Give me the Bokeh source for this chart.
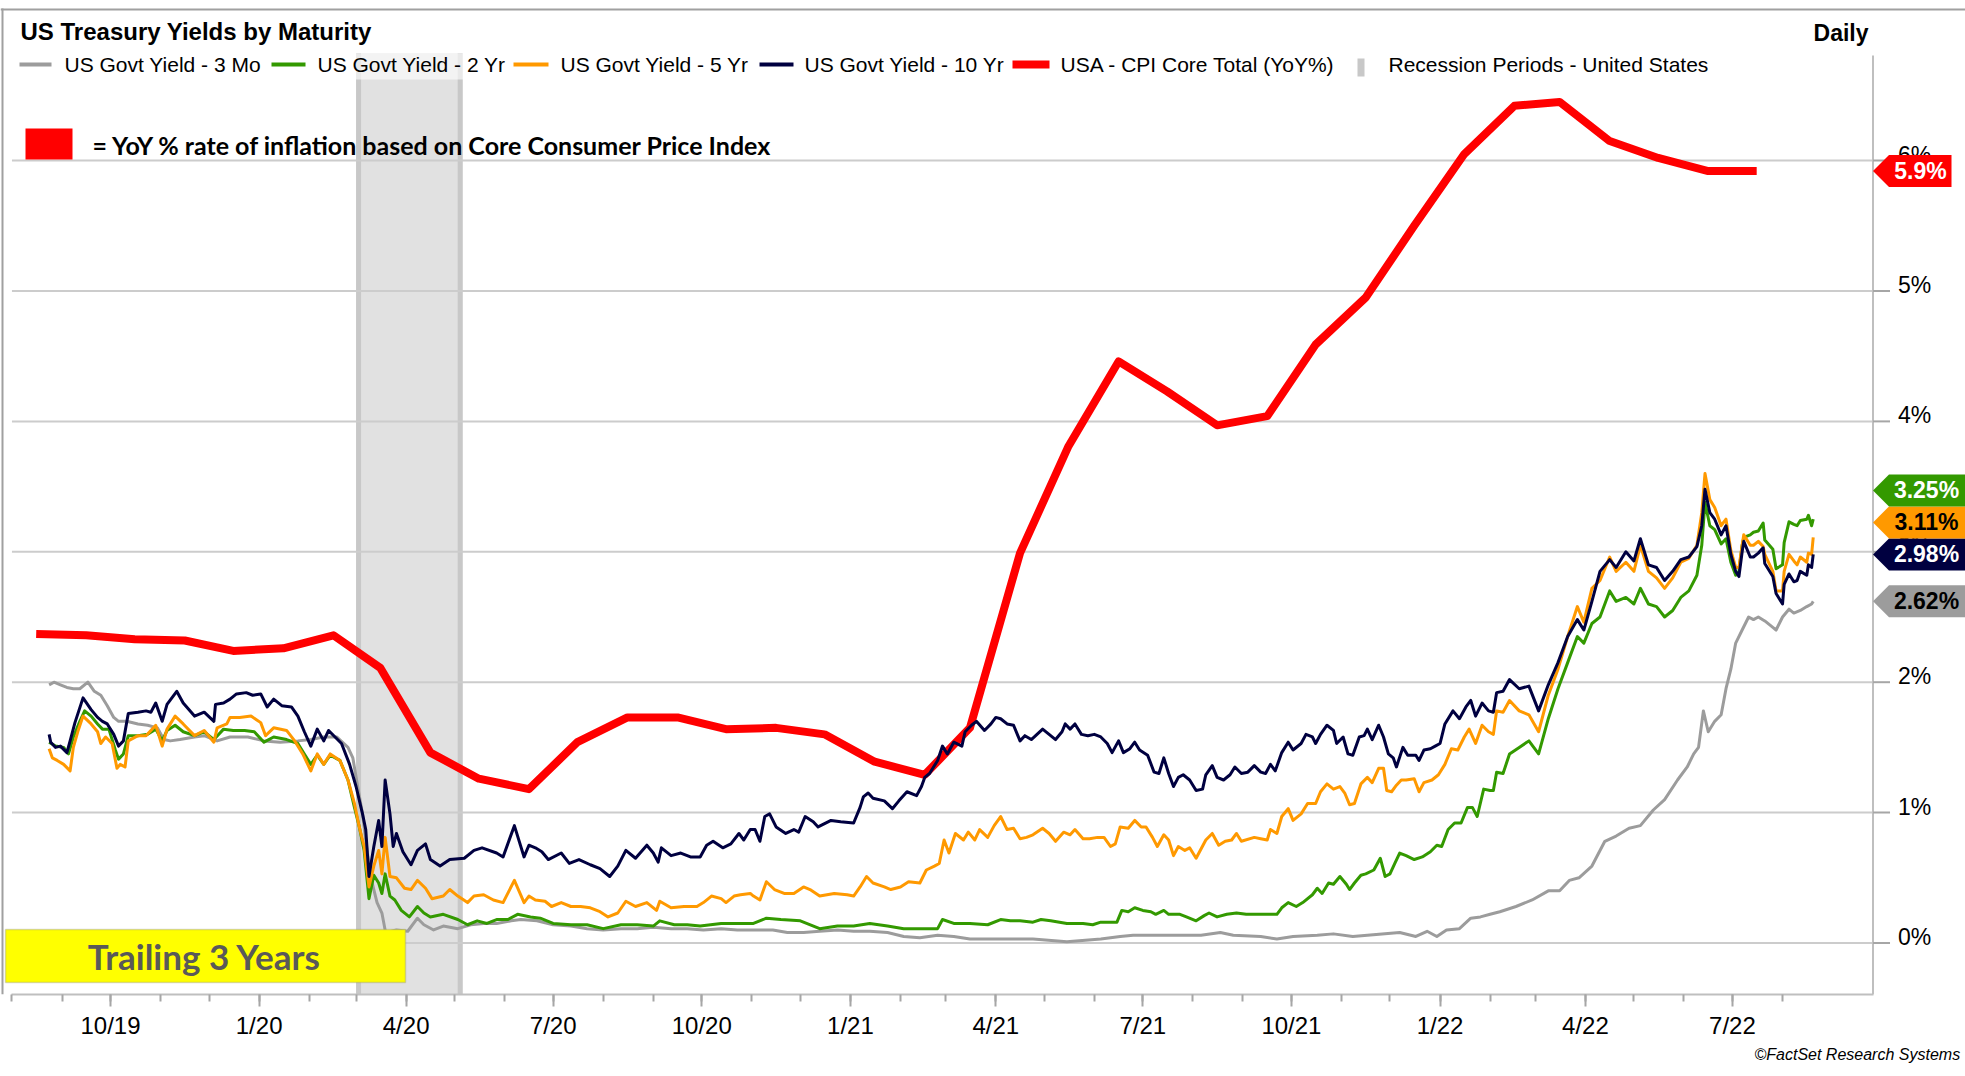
from datetime import datetime, timedelta
from bokeh.plotting import figure
from bokeh.models import (Range1d, FixedTicker, CustomJSTickFormatter, BoxAnnotation,
                          PolyAnnotation, Label, Title)
from bokeh.core.properties import value
from bokeh.embed import file_html
from bokeh.resources import INLINE

# ---------------- data (dates as days since 2019-10-01, yields in %) ----------------
BASE = datetime(2019, 10, 1)

y3m_days = [-38,-35,-31,-27,-23,-19,-14,-10,-6,-2,2,5,10,17,23,29,33,37,43,52,58,66,74,85,95,105,116,124,132,140,
            147,150,153,156,159,162,165,168,170,171,177,184,190,194,200,206,215,223,231,239,248,254,264,274,285,295,
            305,316,326,336,347,357,367,378,388,398,410,419,429,439,450,460,470,481,491,501,512,522,532,543,551,571,
            592,613,625,633,654,675,687,695,712,722,732,747,757,769,778,798,808,815,821,827,835,842,848,854,860,870,
            880,890,897,903,909,917,925,932,940,947,955,962,970,976,980,983,986,989,993,
            997,1000,1003,1006,1010,1014,1017,1020,1024,1029,1031,1035,1039,1042,1046,1050,1053,1054]
y3m_vals = [1.98,2.00,1.98,1.96,1.95,1.95,2.00,1.93,1.90,1.82,1.73,1.70,1.70,1.68,1.67,1.65,1.56,1.55,1.56,1.58,1.59,
            1.55,1.58,1.58,1.55,1.54,1.55,1.56,1.58,1.58,1.50,1.42,1.20,0.99,0.69,0.46,0.31,0.23,0.10,0.08,0.10,0.09,
            0.19,0.14,0.10,0.13,0.11,0.14,0.15,0.15,0.17,0.18,0.17,0.14,0.13,0.11,0.10,0.11,0.11,0.12,0.11,0.11,0.10,
            0.11,0.10,0.10,0.10,0.08,0.08,0.09,0.10,0.09,0.09,0.08,0.05,0.04,0.06,0.05,0.03,0.03,0.03,0.03,0.01,0.03,
            0.05,0.06,0.06,0.06,0.08,0.06,0.05,0.03,0.05,0.06,0.07,0.05,0.06,0.08,0.05,0.09,0.05,0.10,0.11,0.19,0.20,
            0.22,0.24,0.28,0.33,0.40,0.40,0.48,0.50,0.59,0.78,0.82,0.88,0.90,1.02,1.10,1.25,1.35,1.45,1.50,1.78,1.62,
            1.70,
            1.75,1.95,2.10,2.30,2.40,2.50,2.48,2.50,2.47,2.42,2.40,2.50,2.56,2.53,2.55,2.58,2.60,2.62]

y2y_days = [-38,-34,-29,-26,-23,-19,-16,-12,-8,-5,-1,3,5,8,11,17,23,28,32,35,40,45,52,58,64,70,76,83,89,95,101,109,
            116,120,124,128,132,136,142,147,151,154,157,160,163,166,168,170,173,176,180,185,190,194,198,206,215,221,
            227,233,239,246,252,260,266,274,285,295,305,316,326,336,340,349,357,365,378,388,398,406,415,427,439,450,
            460,470,481,491,501,512,515,522,532,543,551,557,563,571,576,582,592,602,608,613,623,626,630,634,639,644,
            647,652,655,662,666,672,677,680,685,691,697,703,711,716,722,725,729,734,738,744,747,750,754,757,761,765,
            767,770,774,777,782,786,789,792,795,798,802,807,812,817,821,824,828,832,836,840,843,846,850,854,856,858,
            862,866,872,878,884,890,896,902,908,912,917,922,928,932,938,943,947,952,957,962,967,972,977,982,985,987,
            990,993,997,1000,1003,1006,1008,1010,1011,1015,1017,1020,1023,1024,1029,1031,1035,1036,1039,1042,1044,
            1046,1050,1051,1053,1054]
y2y_vals = [1.54,1.51,1.50,1.45,1.58,1.70,1.78,1.74,1.68,1.64,1.64,1.48,1.41,1.45,1.59,1.59,1.60,1.64,1.55,1.63,1.67,
            1.62,1.59,1.62,1.56,1.64,1.63,1.63,1.62,1.54,1.58,1.56,1.53,1.45,1.37,1.44,1.37,1.44,1.40,1.25,1.04,0.89,
            0.71,0.34,0.52,0.46,0.38,0.53,0.36,0.33,0.25,0.20,0.28,0.23,0.20,0.22,0.18,0.14,0.17,0.15,0.18,0.18,0.22,
            0.20,0.19,0.15,0.14,0.14,0.11,0.14,0.14,0.13,0.17,0.14,0.14,0.13,0.15,0.15,0.15,0.19,0.18,0.17,0.11,0.13,
            0.13,0.15,0.13,0.11,0.11,0.11,0.18,0.15,0.15,0.14,0.18,0.17,0.17,0.16,0.18,0.17,0.15,0.15,0.14,0.16,0.16,
            0.25,0.24,0.27,0.25,0.24,0.22,0.25,0.22,0.22,0.20,0.17,0.21,0.23,0.20,0.22,0.23,0.22,0.22,0.22,0.22,0.27,
            0.31,0.28,0.31,0.37,0.42,0.38,0.46,0.45,0.51,0.45,0.41,0.46,0.52,0.53,0.56,0.65,0.51,0.53,0.61,0.69,0.67,
            0.64,0.66,0.70,0.75,0.74,0.87,0.92,0.92,1.04,1.04,0.97,1.18,1.17,1.17,1.31,1.30,1.45,1.50,1.55,1.45,1.72,
            1.95,2.15,2.35,2.30,2.45,2.50,2.70,2.62,2.65,2.60,2.72,2.60,2.58,2.50,2.55,2.65,2.70,2.82,3.05,3.38,
            3.20,3.17,3.06,3.10,2.92,2.82,2.85,3.05,3.11,3.13,3.15,3.16,3.22,3.09,3.02,2.87,2.90,3.07,3.23,3.21,3.20,
            3.24,3.25,3.28,3.20,3.25]

y5y_days = [-38,-36,-33,-29,-25,-23,-20,-17,-12,-8,-6,-3,1,4,6,9,11,17,22,28,32,35,40,45,52,58,64,66,72,74,80,87,93,
            96,101,109,114,119,124,128,132,136,142,147,151,154,157,160,163,166,168,170,173,177,182,186,190,195,199,206,
            210,215,221,225,231,237,243,250,256,259,263,269,273,279,285,291,297,303,308,314,319,325,332,338,340,347,
            355,363,367,372,378,381,386,390,396,398,402,406,411,417,423,429,433,439,448,456,460,464,468,472,479,483,
            489,494,501,505,510,513,516,519,523,528,531,535,538,543,547,551,555,559,563,567,571,577,581,585,590,594,
            597,602,606,611,615,619,622,625,630,634,638,641,645,648,652,655,658,661,665,668,672,678,682,686,690,694,
            697,700,708,712,716,718,722,725,729,732,737,741,746,749,753,757,761,764,767,770,774,778,781,785,788,790,
            793,796,799,802,807,810,813,818,822,826,830,834,838,841,845,849,853,856,858,862,866,872,878,884,890,896,
            902,908,912,917,922,928,932,938,943,947,952,957,962,967,972,977,982,985,987,
            990,993,997,1000,1003,1006,1008,1010,1011,1015,1017,1020,1023,1024,1029,1031,1035,1036,1039,1042,1044,
            1046,1050,1051,1053,1054]
y5y_vals = [1.49,1.42,1.40,1.37,1.32,1.50,1.63,1.74,1.68,1.62,1.53,1.58,1.53,1.34,1.37,1.35,1.55,1.59,1.59,1.67,1.51,
            1.64,1.74,1.68,1.59,1.63,1.54,1.65,1.68,1.73,1.73,1.74,1.69,1.59,1.65,1.63,1.55,1.45,1.32,1.45,1.37,1.45,
            1.40,1.25,1.07,0.89,0.74,0.43,0.59,0.71,0.53,0.81,0.51,0.50,0.42,0.41,0.48,0.42,0.34,0.36,0.41,0.36,0.31,
            0.36,0.37,0.33,0.31,0.48,0.31,0.36,0.33,0.32,0.28,0.31,0.28,0.28,0.27,0.24,0.20,0.23,0.32,0.28,0.31,0.25,
            0.32,0.27,0.28,0.28,0.31,0.36,0.34,0.31,0.36,0.37,0.38,0.36,0.33,0.47,0.41,0.38,0.38,0.43,0.41,0.36,0.38,
            0.37,0.36,0.43,0.51,0.46,0.43,0.41,0.43,0.47,0.46,0.56,0.59,0.61,0.79,0.69,0.84,0.79,0.85,0.79,0.87,0.81,
            0.90,0.97,0.87,0.88,0.80,0.81,0.83,0.88,0.84,0.78,0.85,0.83,0.87,0.80,0.80,0.81,0.81,0.74,0.76,0.89,0.88,
            0.94,0.89,0.89,0.81,0.74,0.83,0.79,0.67,0.74,0.71,0.73,0.65,0.79,0.84,0.75,0.78,0.79,0.84,0.78,0.81,0.80,
            0.79,0.87,0.84,0.97,1.03,0.94,0.99,1.07,1.07,1.16,1.22,1.18,1.20,1.15,1.06,1.07,1.22,1.27,1.23,1.34,1.34,
            1.17,1.16,1.21,1.25,1.25,1.26,1.16,1.23,1.25,1.29,1.37,1.49,1.48,1.58,1.64,1.53,1.67,1.62,1.60,1.78,1.77,
            1.86,1.78,1.75,1.62,1.90,2.10,2.35,2.58,2.46,2.72,2.78,2.96,2.85,2.92,2.85,3.05,2.85,2.80,2.72,2.80,2.92,
            2.95,3.05,3.30,3.60,
            3.40,3.34,3.20,3.25,3.01,2.88,2.88,3.05,3.13,3.05,3.05,3.08,3.04,2.98,2.85,2.70,2.70,2.85,2.98,2.93,2.90,
            2.96,2.92,2.99,2.98,3.11]

y10_days = [-38,-37,-34,-31,-27,-25,-22,-17,-12,-8,-5,-2,2,5,8,11,17,22,25,28,32,35,41,45,52,58,64,65,70,74,78,84,88,
            93,97,101,106,112,116,120,124,128,132,135,139,143,148,152,156,158,160,163,166,168,170,173,175,177,181,186,
            190,195,198,204,210,219,225,230,239,243,250,256,259,263,267,271,279,284,290,297,303,309,314,319,325,332,
            336,339,341,347,353,359,365,369,373,379,384,389,392,396,399,402,405,408,412,418,423,426,430,435,438,446,
            452,460,464,466,469,472,479,484,488,493,499,502,504,507,512,515,518,522,527,529,533,536,541,545,548,551,
            555,559,563,566,570,577,581,585,589,591,594,597,601,605,609,613,617,620,624,627,631,634,637,642,646,649,
            652,655,658,661,664,668,672,676,678,682,685,689,693,696,700,704,708,712,715,718,721,725,729,732,737,740,
            744,746,749,753,757,759,763,766,769,773,776,778,781,785,788,791,794,796,800,803,808,810,813,817,820,823,
            826,831,835,839,842,845,849,853,856,858,862,866,872,878,884,890,896,902,908,912,917,922,928,932,938,943,
            947,952,957,962,967,972,977,982,985,987,
            990,993,997,1000,1003,1006,1008,1010,1011,1015,1017,1020,1023,1024,1029,1031,1035,1036,1039,1042,1044,
            1046,1050,1051,1053,1054]
y10_vals = [1.60,1.54,1.50,1.51,1.46,1.55,1.69,1.88,1.79,1.73,1.70,1.68,1.60,1.51,1.55,1.76,1.77,1.78,1.77,1.84,1.70,
            1.83,1.93,1.84,1.74,1.77,1.70,1.83,1.84,1.87,1.91,1.92,1.90,1.91,1.81,1.87,1.82,1.81,1.74,1.62,1.51,1.64,
            1.55,1.63,1.58,1.53,1.37,1.20,0.99,0.87,0.51,0.74,0.94,0.74,1.25,0.99,0.74,0.84,0.70,0.60,0.71,0.76,0.64,
            0.59,0.64,0.65,0.71,0.73,0.69,0.66,0.90,0.66,0.75,0.73,0.70,0.64,0.69,0.61,0.64,0.60,0.57,0.51,0.59,0.71,
            0.65,0.75,0.69,0.62,0.73,0.67,0.69,0.66,0.66,0.75,0.78,0.73,0.76,0.84,0.79,0.87,0.87,0.78,0.97,0.99,0.89,
            0.84,0.87,0.85,0.97,0.93,0.89,0.94,0.93,0.92,1.04,1.12,1.15,1.11,1.09,1.03,1.09,1.16,1.13,1.20,1.27,1.30,
            1.40,1.51,1.45,1.54,1.51,1.62,1.67,1.70,1.63,1.68,1.73,1.72,1.68,1.67,1.55,1.59,1.56,1.64,1.60,1.56,1.62,
            1.68,1.64,1.68,1.60,1.59,1.60,1.58,1.53,1.46,1.55,1.46,1.49,1.54,1.48,1.44,1.31,1.30,1.42,1.30,1.20,1.27,
            1.29,1.25,1.17,1.18,1.29,1.36,1.27,1.25,1.29,1.35,1.30,1.31,1.36,1.31,1.30,1.37,1.32,1.46,1.54,1.48,1.53,
            1.60,1.58,1.53,1.60,1.67,1.63,1.53,1.58,1.45,1.44,1.58,1.59,1.64,1.56,1.67,1.58,1.45,1.42,1.35,1.50,1.44,
            1.44,1.40,1.48,1.49,1.51,1.53,1.68,1.78,1.72,1.81,1.86,1.74,1.84,1.78,1.77,1.92,1.93,2.02,1.95,1.97,1.78,
            1.98,2.15,2.35,2.48,2.40,2.62,2.85,2.94,2.88,3.00,2.93,3.10,2.90,2.88,2.78,2.85,2.94,2.96,3.04,3.20,3.48,
            3.30,3.25,3.13,3.20,2.98,2.85,2.81,3.00,3.08,2.96,2.96,2.99,3.03,2.91,2.81,2.68,2.60,2.75,2.83,2.77,2.78,
            2.85,2.82,2.90,2.88,2.98]

# Core CPI YoY %, monthly from Aug 2019 to Jun 2022 (plotted mid-month), last value carried to mid-July
cpi_vals = [2.37,2.36,2.33,2.32,2.24, 2.26,2.36,2.11,1.46,1.26,1.18,1.54,1.73,1.73,1.64,1.65,1.60,
            1.39,1.29,1.65,2.99,3.81,4.46,4.23,3.97,4.04,4.59,4.95,5.50, 6.05,6.42,6.45,6.15,6.02,5.92]
cpi_end = "2022-07-16"

recession = ("2020-03-01", "2020-05-06")
axis_span = ("2019-08-01", "2022-09-26")
y_ticks = [0, 1, 2, 3, 4, 5, 6]

series = [
    ("US Govt Yield - 3 Mo", y3m_days, y3m_vals, "#9c9c9c", "black"),
    ("US Govt Yield - 2 Yr", y2y_days, y2y_vals, "#339900", "white"),
    ("US Govt Yield - 5 Yr", y5y_days, y5y_vals, "#ff9900", "black"),
    ("US Govt Yield - 10 Yr", y10_days, y10_vals, "#000040", "white"),
]
CPI_NAME = "USA - CPI Core Total (YoY%)"
REC_NAME = "Recession Periods - United States"

# ---------------- layout (page pixels) ----------------
def ms(d):
    return (d - datetime(1970, 1, 1)).total_seconds() * 1000.0

def day(s):
    return datetime.strptime(s, "%Y-%m-%d")

W, H = 1965, 1076
FB = 994                      # bottom of the plotting area (x axis line)
PX_PER_DAY = 1.6155           # horizontal scale
ANCHOR_PX = 110               # page x of 2019-10-01
ZERO_PX = 942.5               # page y of 0 %
PX_PER_PCT = 130.4

def dx(px):
    return ms(BASE) + (px - ANCHOR_PX) / PX_PER_DAY * 86400000.0

def dy(py):
    return (ZERO_PX - py) / PX_PER_PCT

AX0, AX1 = (day(s) for s in axis_span)
XR = ms(AX1)                  # right edge of plotting area (value axis line)
FR = ANCHOR_PX + (AX1 - BASE).days * PX_PER_DAY

p = figure(width=W, height=H, x_axis_type="datetime", y_axis_location=None,
           x_range=Range1d(dx(0), dx(W)), y_range=Range1d(dy(FB), dy(0)),
           output_backend="svg", toolbar_location=None,
           min_border_left=0, min_border_right=0, min_border_top=0, min_border_bottom=H - FB)
p.background_fill_color = "white"
p.border_fill_color = "white"
p.outline_line_color = None
p.grid.grid_line_color = None

# x axis: quarterly labels, monthly minor ticks
quarters = [datetime(y, m, 1) for y in (2019, 2020, 2021, 2022) for m in (1, 4, 7, 10)]
quarters = [d for d in quarters if AX0 <= d <= AX1]
months = [datetime(y, m, 1) for y in (2019, 2020, 2021, 2022) for m in range(1, 13)]
months = [d for d in months if AX0 <= d <= datetime(2022, 8, 1)]
p.xaxis.bounds = (ms(AX0), XR)
p.xaxis.ticker = FixedTicker(ticks=[ms(d) for d in quarters], minor_ticks=[ms(d) for d in months])
p.xaxis.formatter = CustomJSTickFormatter(code="""
const d = new Date(tick);
return (d.getUTCMonth() + 1) + "/" + String(d.getUTCFullYear()).slice(2);
""")
p.xaxis.axis_line_color = "#bfbfbf"
p.xaxis.axis_line_width = 2
p.xaxis.major_tick_line_color = "#a6a6a6"
p.xaxis.major_tick_line_width = 2
p.xaxis.minor_tick_line_color = "#a6a6a6"
p.xaxis.minor_tick_line_width = 2
p.xaxis.major_tick_out = 12
p.xaxis.major_tick_in = 0
p.xaxis.minor_tick_out = 7
p.xaxis.minor_tick_in = 0
p.xaxis.major_label_standoff = 5
p.xaxis.major_label_text_font = "Liberation Sans"
p.xaxis.major_label_text_font_size = "24px"
p.xaxis.major_label_text_color = "#000000"

FONT = "Liberation Sans"
p.add_layout(Title(text="\u00a9FactSet Research Systems", align="left", text_font=FONT,
                   text_font_style="italic", text_font_size="16px", text_color="#000000",
                   standoff=4, offset=1754), "below")

# recession band (behind the lines)
r0, r1 = (day(s) for s in recession)
edge = 5 / PX_PER_DAY * 86400000.0
p.add_layout(BoxAnnotation(left=ms(r0), right=ms(r1), top=dy(53), bottom=dy(FB),
                           fill_color="#e1e1e1", fill_alpha=1, line_color=None, level="underlay"))
for lft in (ms(r0), ms(r1) - edge):
    p.add_layout(BoxAnnotation(left=lft, right=lft + edge, top=dy(53), bottom=dy(FB),
                               fill_color="#c8c8c8", fill_alpha=1, line_color=None, level="underlay"))
# translucent legend backdrop
p.add_layout(BoxAnnotation(left=ms(AX0), right=dx(1712), top=dy(53), bottom=dy(79),
                           fill_color="white", fill_alpha=0.6, line_color=None, level="underlay"))

# value axis on the right (gridlines, spine, ticks, labels)
n = len(y_ticks)
p.segment(x0=[ms(AX0)] * n, x1=[XR] * n, y0=y_ticks, y1=y_ticks, line_color="#cccccc", line_width=2)

# CPI line
cpi_dates = [datetime(2019 + (7 + i) // 12, (7 + i) % 12 + 1, 16) for i in range(len(cpi_vals))]
p.line(x=cpi_dates + [day(cpi_end)], y=cpi_vals + [cpi_vals[-1]], line_color="#ff0000",
       line_width=8, line_join="round")

for name, days, vals, color, _ in series:
    p.line(x=[BASE + timedelta(days=d) for d in days], y=vals, line_color=color,
           line_width=3, line_join="round")

p.segment(x0=[XR], x1=[XR], y0=[dy(55)], y1=[dy(FB)], line_color="#bfbfbf", line_width=2)
p.segment(x0=[XR] * n, x1=[dx(FR + 17)] * n, y0=y_ticks, y1=y_ticks, line_color="#a6a6a6",
          line_width=2)
p.text(x=[dx(FR + 25)] * n, y=y_ticks, text=[f"{t}%" for t in y_ticks],
       text_font=value(FONT), text_font_size=value("23px"), text_color="#000000",
       text_align="left", text_baseline="middle", y_offset=-6)

# ---------------- texts & decorations ----------------
def label(px, py, text, size, style="normal", color="#000000", align="left", font=FONT):
    # py is the vertical middle of the text
    p.add_layout(Label(x=dx(px), y=dy(py), text=text, text_font=font, text_font_size=f"{size}px",
                       text_font_style=style, text_color=color, text_align=align,
                       text_baseline="middle"))

def box(x0, y0, x1, y1, color, alpha=1.0, line=None, lw=1):
    p.add_layout(BoxAnnotation(left=dx(x0), right=dx(x1), top=dy(y0), bottom=dy(y1),
                               fill_color=color, fill_alpha=alpha, line_color=line,
                               line_width=lw))

# outer frame lines (top and left)
box(0, 8, W, 10, "#a0a0a0")
box(1, 8, 3, FB, "#a0a0a0")

label(20, 31, "US Treasury Yields by Maturity", 24, "bold")
label(1868, 32, "Daily", 23, "bold", align="right")

# legend
leg_marks = [(19, 51), (271, 305), (513, 548), (759, 793)]
leg_text_x = [64, 317, 560, 804]
for (a, b), tx, (name, _, _, color, _) in zip(leg_marks, leg_text_x, series):
    box(a, 62, b, 66, color)
    label(tx, 63.5, name, 21)
box(1012, 60, 1049, 68, "#ff0000")
label(1060, 63.5, CPI_NAME, 21)
box(1357, 58, 1364, 76, "#c8c8c8")
label(1388, 63.5, REC_NAME, 21)

# inflation note
box(25, 128, 72, 159, "#ff0000")
label(92, 144, "= YoY % rate of inflation based on Core Consumer Price Index", 25, "bold",
      font="Lato")

# trailing box
box(5, 929, 405, 982, "#ffff00", line="#808080", lw=1.5)
label(204, 955, "Trailing 3 Years", 35, "bold", color="#595959", align="center", font="Lato")

# last-value tags on the right axis
half = 16 / PX_PER_PCT
order = sorted(series, key=lambda s: s[2][-1])
placed = []
prev = None
for name, days, vals, color, tcolor in order:
    c = vals[-1]
    if prev is not None and c < prev + 2 * half:
        c = prev + 2 * half
    placed.append((f"{vals[-1]:.2f}%", c, color, tcolor, W + 10, 1926))
    prev = c
placed.append((f"{cpi_vals[-1]:.1f}%", cpi_vals[-1], "#ff0000", "white", 1951, 1920))

for text, c, color, tcolor, right, cx in placed:
    xs = [XR, dx(FR + 16), dx(right), dx(right), dx(FR + 16)]
    ys = [c, c + half, c + half, c - half, c - half]
    p.add_layout(PolyAnnotation(xs=xs, ys=ys, fill_color=color, fill_alpha=1, line_color=None))
    p.add_layout(Label(x=dx(cx), y=c, text=text, text_font=FONT, text_font_size="23px",
                       text_font_style="bold", text_color=tcolor, text_align="center",
                       text_baseline="middle"))

open("out.html", "w").write(file_html(p, INLINE))
